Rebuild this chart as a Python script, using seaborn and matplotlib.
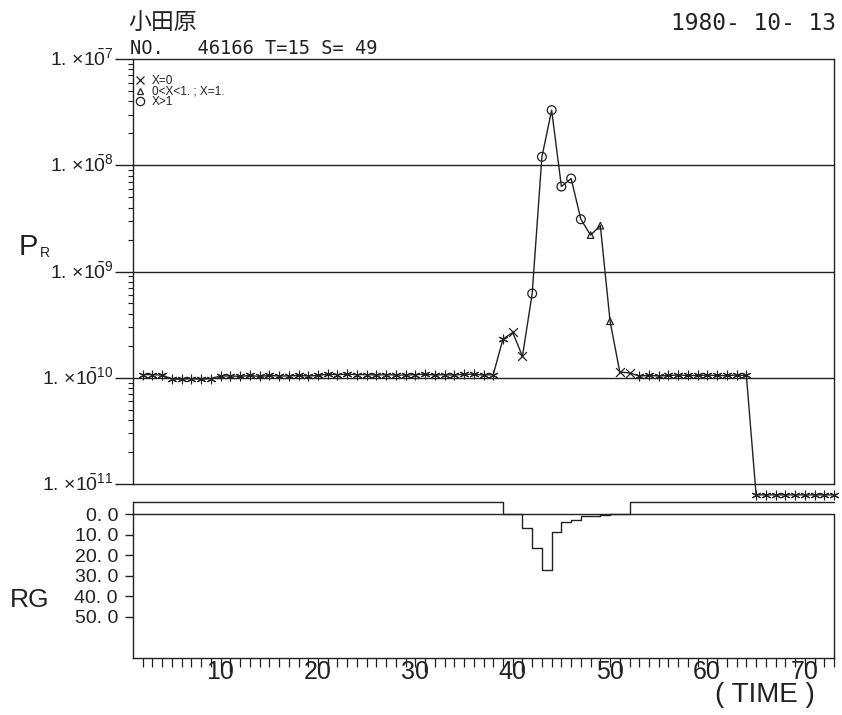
import numpy as np
import pandas as pd
import matplotlib
matplotlib.use("Agg")
import matplotlib.pyplot as plt
import matplotlib.transforms as mtransforms
from matplotlib.lines import Line2D
from matplotlib.ticker import NullFormatter, LogLocator
import seaborn as sns

# ---------------- data ----------------
time = list(range(1, 73))

pr = [1.07e-10, 1.07e-10, 1.06e-10, 0.97e-10, 0.97e-10, 0.98e-10, 0.97e-10, 0.98e-10,
      1.04e-10, 1.04e-10, 1.03e-10, 1.05e-10, 1.03e-10, 1.05e-10, 1.04e-10, 1.04e-10,
      1.05e-10, 1.04e-10, 1.05e-10, 1.08e-10, 1.07e-10, 1.08e-10, 1.07e-10, 1.07e-10,
      1.06e-10, 1.07e-10, 1.06e-10, 1.06e-10, 1.07e-10, 1.08e-10, 1.06e-10, 1.07e-10,
      1.06e-10, 1.08e-10, 1.08e-10, 1.06e-10, 1.07e-10,
      2.31e-10, 2.67e-10, 1.59e-10, 6.2e-10, 1.2e-8, 3.3e-8, 6.3e-9, 7.5e-9, 3.1e-9,
      2.2e-9, 2.7e-9, 3.4e-10, 1.13e-10, 1.11e-10,
      1.04e-10, 1.05e-10, 1.04e-10, 1.05e-10, 1.06e-10, 1.05e-10, 1.05e-10, 1.06e-10,
      1.05e-10, 1.05e-10, 1.06e-10, 1.05e-10,
      7.9e-12, 7.9e-12, 7.9e-12, 7.9e-12, 7.9e-12, 7.9e-12, 7.9e-12, 7.9e-12, 7.9e-12]

nan = np.nan
rg = [nan] * 38 + [0.0, 0.0, 6.5, 16.3, 27.3, 8.6, 3.8, 2.6, 1.0, 0.6, 0.4, 0.0, 0.0] + [nan] * 21

x_ticks_major = [10, 20, 30, 40, 50, 60, 70]
pr_decades = [1e-11, 1e-10, 1e-9, 1e-8, 1e-7]
pr_exponents = ["11", "10", "9", "8", "7"]
rg_ticks = [0, 10, 20, 30, 40, 50]
legend_labels = ["X=0", "0<X<1. ; X=1.", "X>1"]

station = "小田原"
header = "NO.   46166 T=15 S= 49"
date = "1980- 10- 13"

# ---------------- style ----------------
sns.set_theme(style="white")
plt.rcParams["font.family"] = ["Liberation Sans Narrow", "Liberation Sans", "DejaVu Sans"]
plt.rcParams["mathtext.default"] = "regular"
plt.rcParams["axes.edgecolor"] = "#222222"
plt.rcParams["axes.linewidth"] = 1.0

INK = "#222222"

df = pd.DataFrame({"time": time, "pr": pr, "rg": rg})


def category(v):
    if np.isnan(v):
        return "none"
    if v == 0:
        return "zero"
    if v <= 1.0:
        return "low"
    return "high"


df["cat"] = df["rg"].apply(category)

W, H = 842, 715
fig = plt.figure(figsize=(W / 100, H / 100), dpi=100)

left, right = 133, 834
top1, bot1 = 59, 484
top2, bot2 = 502, 658
ax1 = fig.add_axes([left / W, 1 - bot1 / H, (right - left) / W, (bot1 - top1) / H])
ax2 = fig.add_axes([left / W, 1 - bot2 / H, (right - left) / W, (bot2 - top2) / H])

# ---------------- upper panel ----------------
ax1.set_yscale("log")
ax1.set_xlim(0, 72)
ax1.set_ylim(1e-11, 1e-7)

sns.lineplot(data=df, x="time", y="pr", ax=ax1, color=INK, lw=1.0,
             estimator=None, sort=False, clip_on=False, zorder=3)

marker_specs = {
    "none": dict(marker=(6, 2, 0), s=40, linewidth=0.8),
    "zero": dict(marker="x", s=40, linewidth=0.9),
    "low": dict(marker="^", s=22, facecolor="none", edgecolor=INK, linewidth=0.9),
    "high": dict(marker="o", s=40, facecolor="none", edgecolor=INK, linewidth=0.9),
}
for cat, spec in marker_specs.items():
    sub = df[df["cat"] == cat]
    sns.scatterplot(data=sub, x="time", y="pr", ax=ax1, color=INK,
                    clip_on=False, zorder=4, legend=False, **spec)

ax1.set_xlabel("")
ax1.set_ylabel("")
ax1.set_xticks([])
ax1.set_yticks(pr_decades,
               labels=[r"1. ×1$\bar{0}^{%s}$" % e for e in pr_exponents])
ax1.yaxis.set_minor_locator(LogLocator(base=10, subs=np.arange(2, 10)))
ax1.yaxis.set_minor_formatter(NullFormatter())
ax1.tick_params(axis="y", which="major", direction="out", length=13, width=1.0,
                color=INK, labelsize=14, pad=1, labelcolor=INK, left=True)
ax1.tick_params(axis="y", which="minor", direction="out", length=3.5, width=0.8,
                color=INK, left=True)
for yv in pr_decades[1:-1]:
    ax1.axhline(yv, color=INK, lw=1.0, zorder=1)
for lab in ax1.get_yticklabels():
    lab.set_transform(lab.get_transform() +
                      mtransforms.ScaledTranslation(0, 2 / 100, fig.dpi_scale_trans))
for s in ax1.spines.values():
    s.set_visible(True)
    s.set_color(INK)

handles = [
    Line2D([], [], marker="x", ls="", color=INK, ms=6, mew=0.9),
    Line2D([], [], marker="^", ls="", color=INK, ms=4.5, mfc="none", mew=0.9),
    Line2D([], [], marker="o", ls="", color=INK, ms=6, mfc="none", mew=0.9),
]
ax1.legend(handles, legend_labels, loc="upper left", bbox_to_anchor=(0.003, 0.962),
           frameon=False, fontsize=8.5, handlelength=0.9, handletextpad=0.5,
           labelspacing=-0.12, borderpad=0, borderaxespad=0, labelcolor=INK)

# ---------------- lower panel ----------------
rg_top = -6
ax2.set_xlim(0, 72)
ax2.set_ylim(70, rg_top)
rg_drawn = df["rg"].fillna(rg_top)
step_x = [0] + time
step_y = [rg_drawn.iloc[0]] + list(rg_drawn)
sns.lineplot(x=step_x, y=step_y, ax=ax2, color=INK, lw=1.0, drawstyle="steps-pre",
             estimator=None, sort=False, clip_on=False, zorder=3)
ax2.axhline(0, color=INK, lw=1.0, zorder=2)
ax2.spines["top"].set_visible(False)
ax2.spines["right"].set_bounds(0, 70)
for s in ax2.spines.values():
    s.set_color(INK)

ax2.set_yticks(rg_ticks, labels=[f"{v}. 0" for v in rg_ticks])
ax2.tick_params(axis="y", direction="out", length=5.8, width=1.0, color=INK,
                labelsize=14, pad=5, labelcolor=INK, left=True)
ax2.set_xticks(x_ticks_major, labels=[str(v) for v in x_ticks_major])
ax2.set_xticks(time, minor=True)
ax2.tick_params(axis="x", which="major", direction="out", length=10, width=1.0,
                color=INK, labelsize=18, pad=-8.7, labelcolor=INK, bottom=True)
ax2.tick_params(axis="x", which="minor", direction="out", length=6.5, width=0.9,
                color=INK, bottom=True)
for lab in ax2.get_xticklabels():
    lab.set_transform(lab.get_transform() +
                      mtransforms.ScaledTranslation(-10 / 100, 0, fig.dpi_scale_trans))
ax2.set_xlabel("")
ax2.set_ylabel("")

# ---------------- texts ----------------
fig.text(128 / W, 1 - 22 / H, station, ha="left", va="center", fontsize=16.5,
         color=INK, family=["Noto Sans CJK JP", "DejaVu Sans"])
fig.text(130 / W, 1 - 49 / H, header, ha="left", va="center", fontsize=13.5,
         color=INK, family=["DejaVu Sans Mono", "DejaVu Sans"])
fig.text(836 / W, 1 - 23 / H, date, ha="right", va="center", fontsize=16.5,
         color=INK, family=["DejaVu Sans Mono", "DejaVu Sans"])
fig.text(19 / W, 1 - 247 / H, "P", ha="left", va="center", fontsize=21, color=INK)
fig.text(40 / W, 1 - 253 / H, "R", ha="left", va="center", fontsize=10, color=INK)
fig.text(30 / W, 1 - 600 / H, "RG", ha="center", va="center", fontsize=19, color=INK)
fig.text(765 / W, 1 - 695 / H, "( TIME )", ha="center", va="center", fontsize=20,
         color=INK)

fig.savefig("out.png", dpi=100, facecolor="white")
